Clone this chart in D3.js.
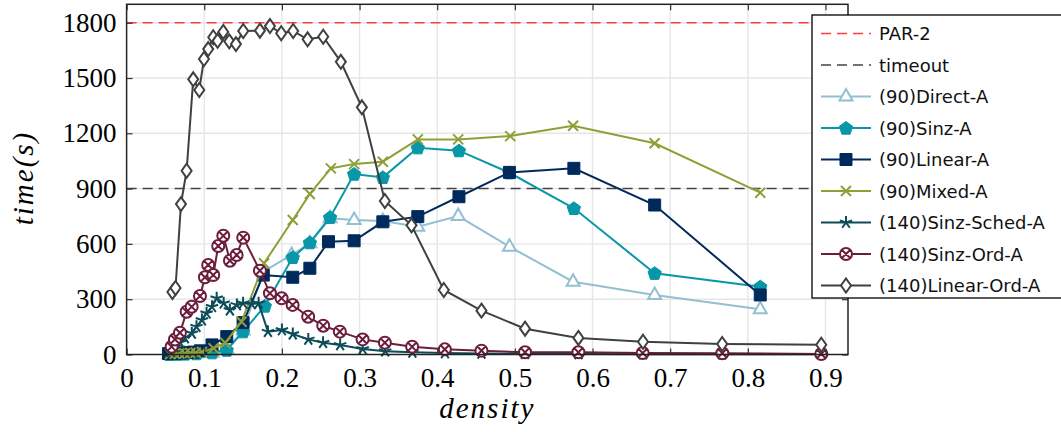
<!DOCTYPE html>
<html>
<head>
<meta charset="utf-8">
<script src="https://cdn.jsdelivr.net/npm/d3@7"></script>
<style>
    body { margin: 0; background: #fff; }
    svg { display: block; }
</style>
</head>
<body>
<script>
'use strict';

// tick values
const xTicks = [0, 0.1, 0.2, 0.3, 0.4, 0.5, 0.6, 0.7, 0.8, 0.9];
const yTicks = [0, 300, 600, 900, 1200, 1500, 1800];

// reference lines
const parLimit = 1800;
const timeoutLimit = 900;

// [density, time(s)] per series
const directA = [[0.055, 1], [0.065, 2], [0.075, 3], [0.09, 5], [0.11, 10], [0.129, 30], [0.150, 130], [0.176, 449], [0.2125, 540], [0.236, 603], [0.262, 739], [0.293, 730], [0.330, 724], [0.375, 693], [0.427, 751], [0.493, 585], [0.575, 395], [0.68, 323], [0.816, 245]];
const sinzA = [[0.055, 1], [0.065, 2], [0.075, 3], [0.09, 5], [0.11, 10], [0.129, 24], [0.150, 124], [0.178, 263], [0.214, 527], [0.236, 607], [0.262, 744], [0.293, 979], [0.330, 961], [0.375, 1122], [0.428, 1106], [0.493, 986], [0.576, 793], [0.68, 441], [0.816, 368]];
const linearA = [[0.054, 5], [0.062, 6], [0.070, 8], [0.078, 10], [0.086, 13], [0.095, 20], [0.110, 52], [0.129, 97], [0.150, 173], [0.176, 431], [0.214, 419], [0.236, 468], [0.260, 612], [0.293, 617], [0.330, 720], [0.375, 748], [0.428, 856], [0.493, 988], [0.576, 1010], [0.68, 811], [0.816, 323]];
const mixedA = [[0.056, 3], [0.062, 4], [0.068, 5], [0.075, 6], [0.082, 8], [0.089, 10], [0.097, 14], [0.112, 34], [0.127, 64], [0.148, 178], [0.177, 495], [0.214, 730], [0.236, 871], [0.263, 1010], [0.293, 1033], [0.330, 1046], [0.375, 1167], [0.427, 1167], [0.494, 1185], [0.575, 1241], [0.68, 1146], [0.816, 878]];
const sinzSchedA = [[0.057, 15], [0.062, 40], [0.069, 65], [0.075, 90], [0.084, 115], [0.090, 151], [0.097, 187], [0.103, 224], [0.110, 259], [0.116, 305], [0.125, 278], [0.133, 241], [0.142, 269], [0.150, 278], [0.161, 274], [0.170, 278], [0.182, 124], [0.200, 133], [0.214, 111], [0.234, 82], [0.253, 64], [0.275, 52], [0.304, 30], [0.333, 18], [0.368, 12], [0.410, 8], [0.457, 6], [0.513, 4], [0.582, 3], [0.665, 2], [0.767, 2], [0.895, 2]];
const sinzOrdA = [[0.058, 42], [0.0623, 82], [0.0687, 118], [0.0773, 232], [0.0838, 259], [0.0945, 317], [0.1009, 419], [0.1051, 486], [0.1116, 431], [0.118, 589], [0.1245, 644], [0.1331, 509], [0.1417, 540], [0.1502, 634], [0.1717, 455], [0.1846, 332], [0.1996, 305], [0.2138, 269], [0.2338, 205], [0.2532, 156], [0.2746, 124], [0.3039, 82], [0.3326, 64], [0.3677, 42], [0.4098, 28], [0.457, 21], [0.5131, 12], [0.5818, 12], [0.6646, 8], [0.7672, 7], [0.8946, 3]];
const linearOrdA = [[0.059, 339], [0.063, 361], [0.070, 816], [0.0773, 997], [0.0858, 1493], [0.0936, 1435], [0.0996, 1603], [0.1051, 1657], [0.1116, 1721], [0.1172, 1702], [0.1245, 1750], [0.1322, 1699], [0.1408, 1684], [0.1502, 1755], [0.1717, 1757], [0.1846, 1782], [0.1991, 1743], [0.2145, 1755], [0.2331, 1710], [0.2532, 1724], [0.2759, 1588], [0.303, 1341], [0.3326, 833], [0.3669, 701], [0.4085, 350], [0.457, 238], [0.5131, 140], [0.5818, 90], [0.665, 69], [0.767, 57], [0.8946, 53]];

const seriesNames = ["(90)Direct-A", "(90)Sinz-A", "(90)Linear-A", "(90)Mixed-A", "(140)Sinz-Sched-A", "(140)Sinz-Ord-A", "(140)Linear-Ord-A"];

(function () {

    const W = 1061, H = 432;
    const plot = { left: 126.6, right: 848, top: 4.3, bottom: 354.5 };
    const serif = 'Liberation Serif';
    const sans = 'DejaVu Sans';

    // marker styles per series
    const styles = [
        { data: directA, color: '#93bfd2', mark: 'triangle', fill: '#fff' },
        { data: sinzA, color: '#0897a8', mark: 'pentagon', fill: null },
        { data: linearA, color: '#002a5c', mark: 'square', fill: null },
        { data: mixedA, color: '#8f9f36', mark: 'cross', fill: 'none' },
        { data: sinzSchedA, color: '#0c4c59', mark: 'star', fill: 'none' },
        { data: sinzOrdA, color: '#6c1d3b', mark: 'otimes', fill: '#fff' },
        { data: linearOrdA, color: '#404040', mark: 'diamond', fill: '#fff' }
    ];

    const svg = d3.select('body').append('svg')
        .attr('width', W)
        .attr('height', H);

    const x = d3.scaleLinear().domain([0, 0.929]).range([plot.left, plot.right]);
    const y = d3.scaleLinear().domain([0, 1900]).range([plot.bottom, plot.top]);

    drawGrid();
    drawRefLines();
    styles.forEach(drawSeries);
    drawAxes();
    makeLabels();
    makeLegend();

    function drawGrid() {
        const g = svg.append('g').attr('stroke', '#e6e6e6').attr('stroke-width', 1.4);
        g.selectAll('.vx').data(xTicks.slice(1)).enter().append('line')
            .attr('x1', d => x(d)).attr('x2', d => x(d))
            .attr('y1', plot.top).attr('y2', plot.bottom);
        g.selectAll('.hy').data(yTicks.slice(1)).enter().append('line')
            .attr('x1', plot.left).attr('x2', plot.right)
            .attr('y1', d => y(d)).attr('y2', d => y(d));
    }

    function drawRefLines() {
        svg.append('line')
            .attr('x1', plot.left).attr('x2', plot.right)
            .attr('y1', y(parLimit)).attr('y2', y(parLimit))
            .attr('stroke', '#ff4040').attr('stroke-width', 1.5)
            .attr('stroke-dasharray', '10,6');
        svg.append('line')
            .attr('x1', plot.left).attr('x2', plot.right)
            .attr('y1', y(timeoutLimit)).attr('y2', y(timeoutLimit))
            .attr('stroke', '#444').attr('stroke-width', 1.5)
            .attr('stroke-dasharray', '10,6');
    }

    // marker path centered on 0,0
    function markerPath(type) {
        if (type === 'triangle') {
            return 'M0,-7.5L6.5,4L-6.5,4Z';
        } else if (type === 'pentagon') {
            const pts = d3.range(5).map(i => {
                const a = -Math.PI / 2 + i * 2 * Math.PI / 5;
                return [7 * Math.cos(a), 7 * Math.sin(a) + 0.5];
            });
            return 'M' + pts.join('L') + 'Z';
        } else if (type === 'square') {
            return 'M-6,-6H6V6H-6Z';
        } else if (type === 'cross') {
            return 'M-5,-5L5,5M-5,5L5,-5';
        } else if (type === 'star') {
            let p = '';
            for (let i = 0; i < 5; i++) {
                const a = -Math.PI / 2 + i * 2 * Math.PI / 5;
                p += 'M0,0L' + (6.5 * Math.cos(a)) + ',' + (6.5 * Math.sin(a));
            }
            return p;
        } else if (type === 'otimes') {
            const r = 6, k = r * 0.68;
            return 'M' + r + ',0A' + r + ',' + r + ' 0 1,1 ' + (-r) + ',0A' + r + ',' + r + ' 0 1,1 ' + r + ',0Z' +
                'M' + (-k) + ',' + (-k) + 'L' + k + ',' + k + 'M' + (-k) + ',' + k + 'L' + k + ',' + (-k);
        } else {
            return 'M0,-7L5,0L0,7L-5,0Z';
        }
    }

    function drawMarker(sel, s) {
        sel.attr('d', markerPath(s.mark))
            .attr('fill', s.fill === null ? s.color : s.fill)
            .attr('stroke', s.color)
            .attr('stroke-width', s.mark === 'square' || s.mark === 'pentagon' ? 1 : 2)
            .attr('stroke-linejoin', 'miter');
    }

    function drawSeries(s) {
        const line = d3.line().x(d => x(d[0])).y(d => y(d[1]));
        svg.append('path')
            .datum(s.data)
            .attr('d', line)
            .attr('fill', 'none')
            .attr('stroke', s.color)
            .attr('stroke-width', 2);
        svg.append('g').selectAll('path')
            .data(s.data)
            .enter()
            .append('path')
            .attr('transform', d => 'translate(' + x(d[0]) + ',' + y(d[1]) + ')')
            .call(drawMarker, s);
    }

    function styleAxis(g) {
        g.attr('font-family', serif).attr('font-size', 27);
        g.select('.domain').remove();
        g.selectAll('.tick line').attr('stroke', '#333').attr('stroke-width', 1.2);
        g.selectAll('text')
            .attr('font-family', serif)
            .attr('font-size', 27)
            .attr('fill', '#000');
    }

    function drawAxes() {
        svg.append('g')
            .attr('transform', 'translate(0,' + plot.bottom + ')')
            .call(d3.axisBottom(x).tickValues(xTicks).tickSize(-6).tickPadding(13)
                .tickFormat(d => d === 0 ? '0' : d3.format('.1f')(d)))
            .call(styleAxis);
        svg.append('g')
            .attr('transform', 'translate(' + plot.left + ',0)')
            .call(d3.axisLeft(y).tickValues(yTicks).tickSize(-6).tickPadding(10)
                .tickFormat(d => String(d)))
            .call(styleAxis);
        svg.append('g')
            .attr('transform', 'translate(0,' + plot.top + ')')
            .call(d3.axisTop(x).tickValues(xTicks).tickSize(-6).tickFormat(''))
            .call(styleAxis);
        svg.append('g')
            .attr('transform', 'translate(' + plot.right + ',0)')
            .call(d3.axisRight(y).tickValues(yTicks).tickSize(-6).tickFormat(''))
            .call(styleAxis);

        // frame
        svg.append('rect')
            .attr('x', plot.left).attr('y', plot.top)
            .attr('width', plot.right - plot.left)
            .attr('height', plot.bottom - plot.top)
            .attr('fill', 'none')
            .attr('stroke', '#222')
            .attr('stroke-width', 1.5);
    }

    function makeLabels() {
        svg.append('text')
            .attr('x', (plot.left + plot.right) / 2)
            .attr('y', 418)
            .attr('text-anchor', 'middle')
            .attr('font-family', serif)
            .attr('font-style', 'italic')
            .attr('font-size', 29)
            .attr('letter-spacing', 2)
            .text('density');

        svg.append('text')
            .attr('transform', 'translate(33,178)rotate(-90)')
            .attr('text-anchor', 'middle')
            .attr('font-family', serif)
            .attr('font-style', 'italic')
            .attr('font-size', 29)
            .attr('letter-spacing', 2)
            .text('time(s)');
    }

    function makeLegend() {
        const lg = svg.append('g');
        lg.append('rect')
            .attr('x', 812).attr('y', 15)
            .attr('width', 270).attr('height', 283)
            .attr('fill', '#fff')
            .attr('stroke', '#000')
            .attr('stroke-width', 1.3);

        const rowY = i => 33.5 + i * 31.5;
        const entries = [
            { name: 'PAR-2', color: '#ff4040', dash: true },
            { name: 'timeout', color: '#444', dash: true }
        ].concat(styles.map((s, i) => Object.assign({ name: seriesNames[i] }, s)));

        entries.forEach((e, i) => {
            const cy = rowY(i);
            lg.append('line')
                .attr('x1', 821).attr('x2', 871)
                .attr('y1', cy).attr('y2', cy)
                .attr('stroke', e.color)
                .attr('stroke-width', e.dash ? 1.5 : 2)
                .attr('stroke-dasharray', e.dash ? '10,6' : null);
            if (!e.dash) {
                lg.append('path')
                    .attr('transform', 'translate(846,' + cy + ')')
                    .call(drawMarker, e);
            }
            lg.append('text')
                .attr('x', 879)
                .attr('y', cy + 6.5)
                .attr('font-family', sans)
                .attr('font-size', 18)
                .attr('fill', '#111')
                .text(e.name);
        });
    }

})();
</script>
</body>
</html>
